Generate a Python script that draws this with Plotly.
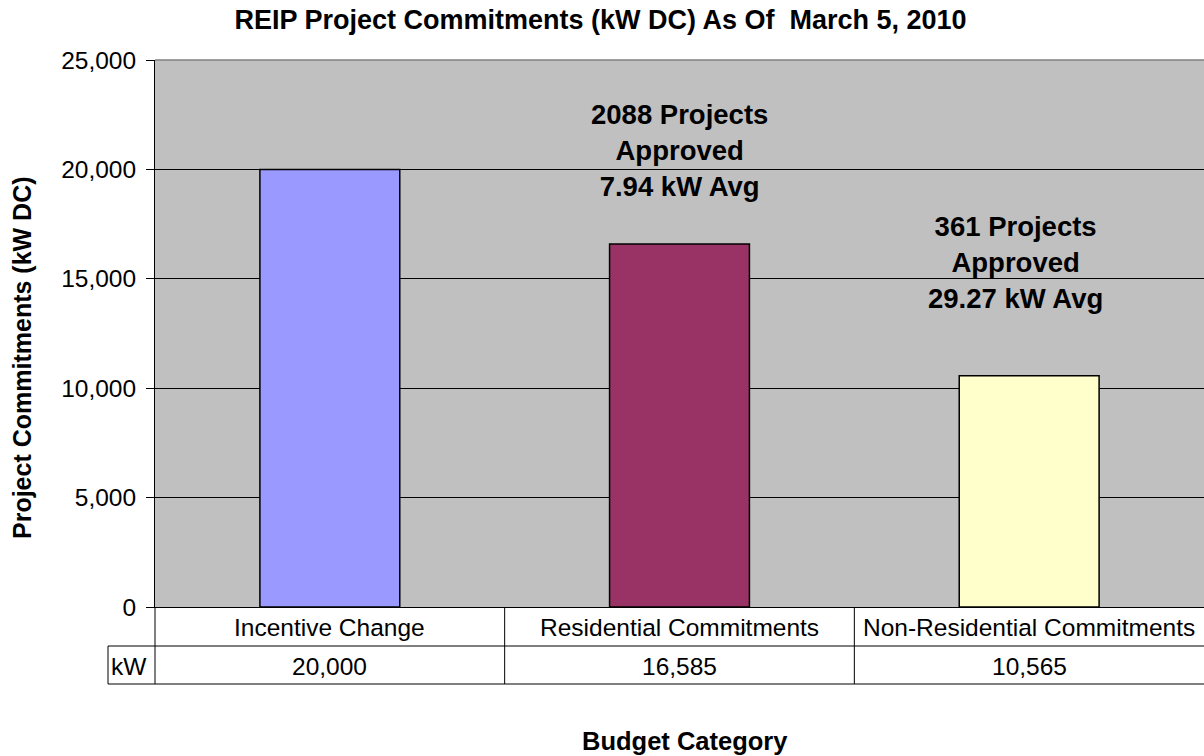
import plotly.graph_objects as go

categories = ["Incentive Change", "Residential Commitments", "Non-Residential Commitments"]
values = [20000, 16585, 10565]
colors = ["#9999FF", "#993366", "#FFFFCC"]
table_values = ["20,000", "16,585", "10,565"]
notes = ["", "2088 Projects<br>Approved<br>7.94 kW Avg", "361 Projects<br>Approved<br>29.27 kW Avg"]
note_y = [None, 20855, 15745]
note_dx = [0, 0, -0.04]
y_ticks = [0, 5000, 10000, 15000, 20000, 25000]

FONT = "Liberation Sans, Arial, sans-serif"
W, H = 1204, 756
ML, MR, MT, MB = 155, 0, 60, 149
PH = H - MT - MB  # plot height in px

def py(px):  # pixel y -> paper y
    return (H - MB - px) / PH

def pxx(px):  # pixel x -> paper x
    return (px - ML) / (W - ML - MR)

x_idx = list(range(len(categories)))

fig = go.Figure()
fig.add_trace(go.Bar(
    x=x_idx, y=values, width=0.4,
    marker=dict(color=colors, line=dict(color="black", width=1.5)),
    hoverinfo="skip", showlegend=False,
))

ann = []
for i, (t, yv, dx) in enumerate(zip(notes, note_y, note_dx)):
    if t:
        ann.append(dict(x=i + dx, y=yv, xref="x", yref="y", text="<b>" + t.replace("<br>", "</b><br><b>") + "</b>",
                        showarrow=False, font=dict(family=FONT, size=27.5, color="black"),
                        xanchor="center", yanchor="middle", align="center"))
TF = 24.5
row1, row2 = py(627.5), py(666.5)
for i, (c, v) in enumerate(zip(categories, table_values)):
    ann.append(dict(x=i, y=row1, xref="x", yref="paper", text=c, showarrow=False,
                    font=dict(family=FONT, size=TF, color="black"),
                    xanchor="center", yanchor="middle"))
    ann.append(dict(x=i, y=row2, xref="x", yref="paper", text=v, showarrow=False,
                    font=dict(family=FONT, size=TF, color="black"),
                    xanchor="center", yanchor="middle"))
ann.append(dict(x=pxx(129), y=row2, xref="paper", yref="paper", text="kW", showarrow=False,
                font=dict(family=FONT, size=TF, color="black"),
                xanchor="center", yanchor="middle"))
ann.append(dict(x=pxx(22), y=py(358), xref="paper", yref="paper",
                text="<b>Project Commitments (kW DC)</b>", textangle=-90, showarrow=False,
                font=dict(family=FONT, size=25, color="black"),
                xanchor="center", yanchor="middle"))
ann.append(dict(x=pxx(685), y=py(741), xref="paper", yref="paper",
                text="<b>Budget Category</b>", showarrow=False,
                font=dict(family=FONT, size=25.5, color="black"),
                xanchor="center", yanchor="middle"))

line = dict(color="black", width=1)
y1, y2 = py(646), py(684)
shapes = [
    dict(type="line", xref="paper", yref="paper", x0=pxx(108), x1=1, y0=y1, y1=y1, line=line),
    dict(type="line", xref="paper", yref="paper", x0=pxx(108), x1=1, y0=y2, y1=y2, line=line),
    dict(type="line", xref="paper", yref="paper", x0=0, x1=0, y0=y2, y1=0, line=line),
    dict(type="line", xref="paper", yref="paper", x0=pxx(108), x1=pxx(108), y0=y2, y1=y1, line=line),
    dict(type="line", xref="paper", yref="paper", x0=0, x1=1, y0=1, y1=1,
         line=dict(color="#808080", width=1.5)),
]
for b in [0.5, 1.5]:
    shapes.append(dict(type="line", xref="x", yref="paper", x0=b, x1=b, y0=y2, y1=0, line=line))

fig.update_layout(
    width=W, height=H,
    margin=dict(l=ML, r=MR, t=MT, b=MB),
    paper_bgcolor="white", plot_bgcolor="#C0C0C0",
    font=dict(family=FONT, color="black"),
    title=dict(text="<b>REIP Project Commitments (kW DC) As Of  March 5, 2010</b>",
               x=600.5 / W, xref="container", xanchor="center",
               y=1 - 20 / H, yref="container", yanchor="middle",
               font=dict(family=FONT, size=27, color="black")),
    xaxis=dict(range=[-0.5, 2.5], showticklabels=False, showgrid=False, zeroline=False,
               showline=True, linecolor="black", linewidth=1, ticks="", fixedrange=True),
    yaxis=dict(range=[0, 25000], tickvals=y_ticks, tickformat=",", showgrid=True,
               gridcolor="black", gridwidth=1, zeroline=False, showline=True,
               linecolor="black", linewidth=1, ticks="outside", ticklen=8,
               tickcolor="black", tickfont=dict(family=FONT, size=24.5, color="black"),
               ticklabelstandoff=5),
    annotations=ann, shapes=shapes, bargap=0.6,
)

fig.write_html("out.html", config={"displayModeBar": False},
               post_script="document.body.style.margin='0';document.body.style.overflow='hidden';")
